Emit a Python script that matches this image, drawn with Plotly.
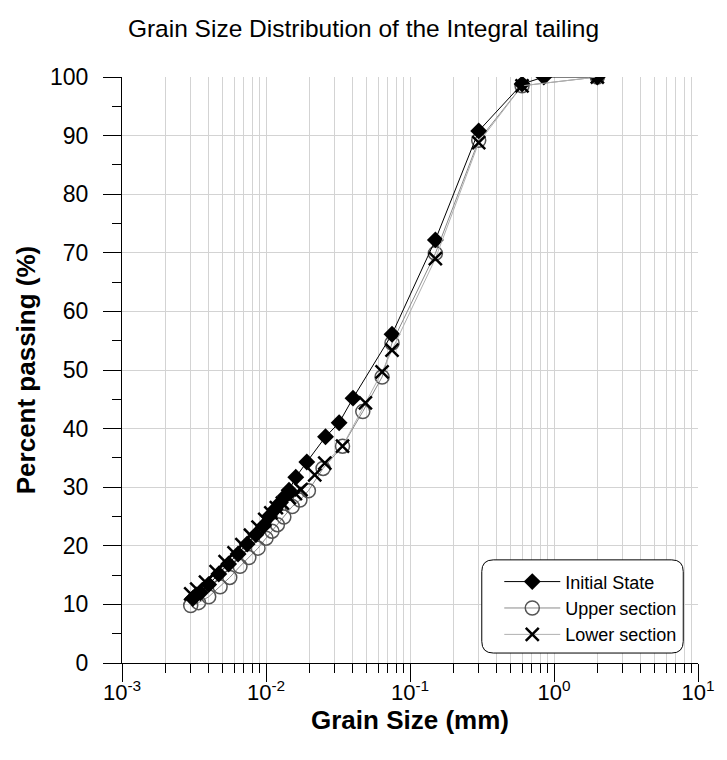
import plotly.graph_objects as go

# ---- data (grain size in mm, percent passing) ----
init_x = [0.0031, 0.0035, 0.0040, 0.0047, 0.0055, 0.0064, 0.0074, 0.0085, 0.0096, 0.0105,
          0.0116, 0.0126, 0.0136, 0.01445, 0.0161, 0.0192, 0.0259, 0.0322, 0.0402, 0.075,
          0.15, 0.3, 0.6, 0.85, 2.0]
init_y = [11.0, 12.0, 13.4, 15.2, 16.9, 18.6, 20.3, 21.9, 23.4, 25.0,
          26.3, 27.4, 28.5, 29.5, 31.7, 34.3, 38.6, 41.0, 45.2, 56.1,
          72.2, 90.8, 98.8, 100.0, 100.0]

upper_x = [0.0030, 0.0034, 0.0040, 0.0048, 0.0056, 0.0066, 0.0076, 0.0088, 0.0100, 0.0110,
           0.0120, 0.0133, 0.0152, 0.0172, 0.0197, 0.0249, 0.034, 0.047, 0.064, 0.075,
           0.15, 0.3, 0.6, 2.0]
upper_y = [9.8, 10.3, 11.3, 13.0, 14.6, 16.5, 18.0, 19.6, 21.3, 22.5,
           23.6, 24.9, 26.7, 27.8, 29.4, 33.2, 37.0, 42.9, 48.8, 54.6,
           69.9, 89.2, 98.5, 100.0]

lower_x = [0.0030, 0.0033, 0.0038, 0.0045, 0.0052, 0.0060, 0.0068, 0.0078, 0.0088, 0.0098,
           0.0108, 0.0118, 0.0130, 0.0145, 0.0160, 0.0175, 0.0218, 0.0256, 0.034, 0.049,
           0.064, 0.075, 0.15, 0.3, 0.6, 2.0]
lower_y = [11.8, 12.6, 13.8, 15.6, 17.3, 18.8, 20.2, 21.8, 23.2, 24.5,
           25.6, 26.5, 27.3, 28.2, 28.9, 29.6, 32.1, 34.1, 37.0, 44.4,
           49.7, 53.4, 69.0, 88.8, 98.5, 100.0]

x_tickvals = [0.001, 0.01, 0.1, 1, 10]
x_ticktext = ["10<sup>-3</sup>", "10<sup>-2</sup>", "10<sup>-1</sup>", "10<sup>0</sup>", "10<sup>1</sup>"]

FONT = "Liberation Sans, Arial, sans-serif"
GRID = "#d3d3d3"

fig = go.Figure()
fig.add_trace(go.Scatter(
    x=upper_x, y=upper_y, name="Upper section", mode="lines+markers", legendrank=2,
    line=dict(color="#8a8a8a", width=1),
    marker=dict(symbol="circle-open", size=14, color="#555555", line=dict(width=1.5, color="#555555")),
))
fig.add_trace(go.Scatter(
    x=init_x, y=init_y, name="Initial State", mode="lines+markers", legendrank=1,
    line=dict(color="black", width=1),
    marker=dict(symbol="diamond", size=13, color="black"),
))
fig.add_trace(go.Scatter(
    x=lower_x, y=lower_y, name="Lower section", mode="lines+markers", legendrank=3,
    line=dict(color="#b0b0b0", width=1),
    marker=dict(symbol="x-thin-open", size=13, color="black", line=dict(width=2.5, color="black")),
))

# rounded legend box in paper coordinates
x0, x1, y0, y1, r = 0.6246, 0.9744, 0.017, 0.176, 0.02
path = (f"M {x0+r},{y0} L {x1-r},{y0} Q {x1},{y0} {x1},{y0+r} L {x1},{y1-r} "
        f"Q {x1},{y1} {x1-r},{y1} L {x0+r},{y1} Q {x0},{y1} {x0},{y1-r} "
        f"L {x0},{y0+r} Q {x0},{y0} {x0+r},{y0} Z")
fig.add_shape(type="path", path=path, xref="paper", yref="paper",
              line=dict(color="black", width=1), fillcolor="white", layer="above")

fig.update_layout(
    width=727, height=760,
    margin=dict(l=122, r=19, t=77, b=97),
    paper_bgcolor="white", plot_bgcolor="white",
    font=dict(family=FONT, color="black", size=22),
    title=dict(text="Grain Size Distribution of the Integral tailing",
               x=0.5, xref="container", xanchor="center",
               y=1 - 28 / 760, yref="container", yanchor="middle",
               font=dict(size=24.5, family=FONT)),
    showlegend=True,
    legend=dict(x=0.655, y=0.170, xanchor="left", yanchor="top",
                bgcolor="rgba(0,0,0,0)", borderwidth=0, itemwidth=56,
                font=dict(size=18, family=FONT)),
    xaxis=dict(
        type="log", range=[-3, 1],
        tickvals=x_tickvals, ticktext=x_ticktext,
        ticks="outside", ticklen=18, tickwidth=1, tickcolor="black",
        showline=True, linecolor="black", linewidth=1,
        showgrid=True, gridcolor=GRID, gridwidth=1,
        minor=dict(dtick="D1", ticks="outside", ticklen=9, tickcolor="black",
                   showgrid=True, gridcolor=GRID, gridwidth=1),
        title=dict(text="<b>Grain Size (mm)</b>", font=dict(size=26, family=FONT), standoff=2),
        tickfont=dict(size=22, family=FONT),
        ticklabelstandoff=-8,
        zeroline=False,
    ),
    yaxis=dict(
        range=[0, 100], dtick=10,
        ticks="outside", ticklen=18, tickwidth=1, tickcolor="black",
        showline=True, linecolor="black", linewidth=1,
        showgrid=True, gridcolor=GRID, gridwidth=1,
        minor=dict(dtick=5, ticks="outside", ticklen=9, tickcolor="black", showgrid=False),
        title=dict(text="<b>Percent passing (%)</b>", font=dict(size=26, family=FONT), standoff=6),
        tickfont=dict(size=23, family=FONT),
        ticklabelstandoff=10,
        zeroline=False,
    ),
)

fig.write_html("out.html")
